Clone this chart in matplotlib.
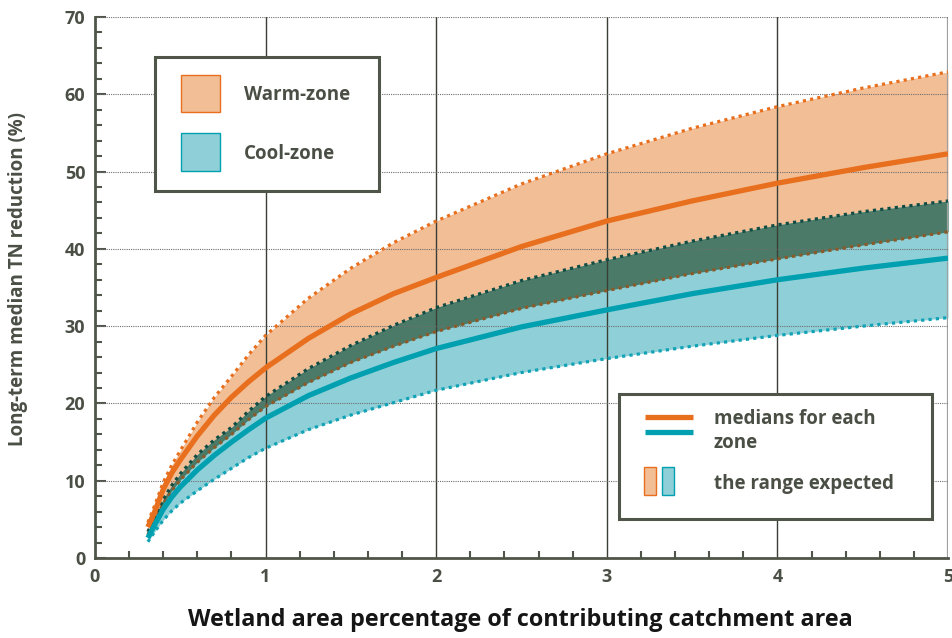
import matplotlib.pyplot as plt
from matplotlib.patches import Rectangle
from matplotlib.lines import Line2D

# wetland area (% of catchment) and TN reduction (%) for each zone
area = [0.31, 0.35, 0.4, 0.45, 0.5, 0.6, 0.7, 0.8, 0.9, 1.0,
        1.25, 1.5, 1.75, 2.0, 2.5, 3.0, 3.5, 4.0, 4.5, 5.0]

warm_hi = [4.6, 6.8, 9.8, 12.0, 13.9, 17.6, 20.8, 23.5, 26.3, 28.8,
           33.6, 37.5, 40.8, 43.6, 48.4, 52.3, 55.6, 58.4, 60.8, 62.9]
warm_med = [4.0, 6.0, 8.9, 11.0, 12.7, 15.8, 18.5, 20.8, 22.8, 24.6,
            28.4, 31.6, 34.2, 36.3, 40.3, 43.6, 46.2, 48.5, 50.5, 52.3]
warm_lo = [3.0, 4.9, 7.0, 8.7, 10.1, 12.4, 14.3, 16.0, 17.9, 19.6,
           22.7, 25.3, 27.4, 29.3, 32.3, 34.6, 36.8, 38.7, 40.5, 42.2]

cool_hi = [3.4, 5.3, 7.6, 9.4, 10.9, 13.4, 15.3, 16.9, 19.0, 20.9,
           24.5, 27.5, 30.1, 32.4, 35.9, 38.6, 41.0, 43.1, 44.8, 46.2]
cool_med = [2.6, 4.3, 6.3, 7.9, 9.2, 11.4, 13.3, 15.0, 16.6, 18.1,
            21.0, 23.3, 25.3, 27.1, 29.9, 32.1, 34.2, 36.0, 37.5, 38.8]
cool_lo = [2.1, 3.4, 4.9, 6.1, 7.1, 8.7, 10.2, 11.6, 13.0, 14.2,
           16.6, 18.5, 20.1, 21.7, 24.0, 25.8, 27.4, 28.8, 30.0, 31.1]

x_ticks = [0, 1, 2, 3, 4, 5]
y_ticks = [0, 10, 20, 30, 40, 50, 60, 70]

W, H = 953, 638
ink = '#4a4f45'
warm_fill = '#f2be96'
warm_line = '#e86f1e'
cool_fill = '#8fd0d8'
cool_line = '#00a0b0'
overlap = '#4b7b68'

plt.rcParams['font.family'] = ['Open Sans', 'DejaVu Sans']


def fx(px):
    return px / W


def fy(py):
    return 1 - py / H


fig = plt.figure(figsize=(W / 100, H / 100), dpi=100)
ax = fig.add_axes([fx(95), fy(558), (948 - 95) / W, (558 - 17) / H])
ax.set_xlim(0, 5)
ax.set_ylim(0, 70)

# shaded ranges, overlap in dark green
ax.fill_between(area, warm_lo, warm_hi, color=warm_fill, lw=0, zorder=1)
ax.fill_between(area, cool_lo, cool_hi, color=cool_fill, lw=0, zorder=1)
ax.fill_between(area, warm_lo, cool_hi, color=overlap, lw=0, zorder=1.5)

# grid
for v in x_ticks[1:-1]:
    ax.axvline(v, color='#3a3f36', lw=1.0, zorder=2)
ax.axvline(5, color='#a0a0a0', lw=1.6, zorder=2)
for v in y_ticks[1:]:
    ax.axhline(v, color='#6e6e6e', lw=0.8, ls=(0, (1, 1)), zorder=2)

# range edges
dots = (0, (1, 1.3))
ax.plot(area, warm_hi, color=warm_line, lw=2.3, ls=dots, zorder=3)
ax.plot(area, warm_lo, color='#8a5a2a', lw=2.3, ls=dots, zorder=3)
ax.plot(area, cool_hi, color='#114d44', lw=2.3, ls=dots, zorder=3)
ax.plot(area, cool_lo, color='#11a3b5', lw=2.3, ls=dots, zorder=3)

# medians
ax.plot(area, warm_med, color=warm_line, lw=3.8, zorder=4, solid_capstyle='butt')
ax.plot(area, cool_med, color=cool_line, lw=3.8, zorder=4, solid_capstyle='butt')

for s in ['top', 'right']:
    ax.spines[s].set_visible(False)
for s in ['left', 'bottom']:
    ax.spines[s].set_color('#4f5548')
    ax.spines[s].set_linewidth(2)
    ax.spines[s].set_zorder(5)

ax.set_xticks(x_ticks)
ax.set_yticks(y_ticks)
ax.set_xticks([i * 0.2 for i in range(26)], minor=True)
ax.set_yticks(list(range(0, 71, 2)), minor=True)
ax.tick_params(which='major', direction='in', length=8, width=1.5, color='#4f5548',
               labelsize=13, labelcolor=ink, pad=7)
ax.tick_params(which='minor', direction='in', length=5, width=1.5, color='#4f5548')
ax.tick_params(axis='x', which='major', length=0)
for lab in ax.get_xticklabels() + ax.get_yticklabels():
    lab.set_fontweight('bold')

fig.text(fx(18), fy(279), 'Long-term median TN reduction (%)', rotation=90,
         ha='center', va='center', fontsize=13.5, fontweight='bold', color=ink)
fig.text(fx(520), fy(620), 'Wetland area percentage of contributing catchment area',
         ha='center', va='center', fontsize=16.8, fontweight='bold', color='#151515',
         fontstretch='condensed')


def box(x0, y0, x1, y1):
    fig.add_artist(Rectangle((fx(x0), fy(y1)), fx(x1) - fx(x0), fy(y0) - fy(y1),
                             transform=fig.transFigure, facecolor='white',
                             edgecolor='#4f5548', lw=2.2, zorder=10))


def patch(x0, y0, x1, y1, fc, ec):
    fig.add_artist(Rectangle((fx(x0), fy(y1)), fx(x1) - fx(x0), fy(y0) - fy(y1),
                             transform=fig.transFigure, facecolor=fc,
                             edgecolor=ec, lw=1, zorder=11))


def label(x, y, s):
    fig.text(fx(x), fy(y), s, ha='left', va='center', fontsize=13.5,
             fontweight='bold', color=ink, zorder=12, linespacing=1.2)


# zone legend
box(155, 57, 379, 191)
patch(181, 75, 220, 112, warm_fill, warm_line)
patch(181, 133, 220, 171, cool_fill, cool_line)
label(244, 95, 'Warm-zone')
label(244, 154, 'Cool-zone')

# symbol legend
box(619, 394, 932, 519)
for yy, c in [(417, warm_line), (432, cool_line)]:
    fig.add_artist(Line2D([fx(645), fx(693)], [fy(yy), fy(yy)], transform=fig.transFigure,
                          color=c, lw=3.8, zorder=11, solid_capstyle='butt'))
label(714, 431, 'medians for each\nzone')
patch(644, 467, 656, 495, warm_fill, warm_line)
patch(662, 467, 674, 495, cool_fill, cool_line)
label(714, 484, 'the range expected')

fig.savefig('out.png', dpi=100)
